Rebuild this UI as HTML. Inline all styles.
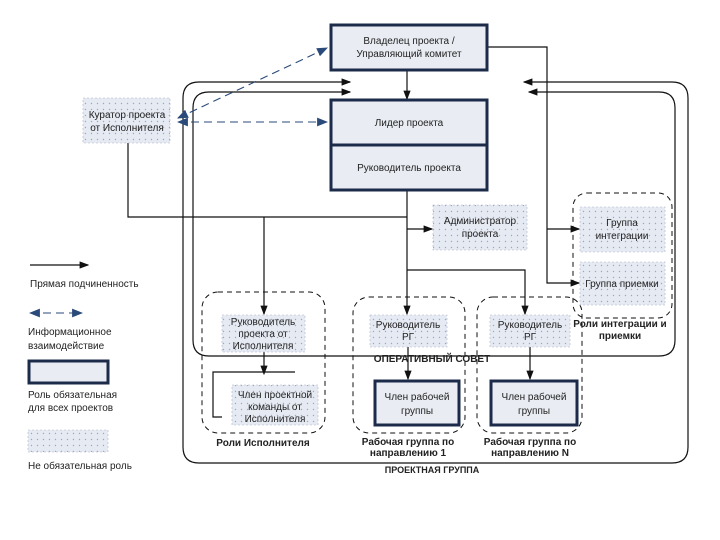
<!DOCTYPE html>
<html><head><meta charset="utf-8"><style>body{margin:0;background:#fff}svg{display:block}text{font-family:"Liberation Sans",sans-serif;font-size:10px;fill:#222}</style></head><body>
<svg width="720" height="540" viewBox="0 0 720 540">
<defs>
<pattern id="dt" width="6" height="6" patternUnits="userSpaceOnUse"><rect width="6" height="6" fill="#e6eaf3"/><circle cx="1.5" cy="1.5" r="0.7" fill="#9aa8c4"/></pattern>
<marker id="a" markerWidth="8" markerHeight="8" refX="7" refY="4" orient="auto"><path d="M0,1 L8,4 L0,7z" fill="#111"/></marker>
<marker id="b" markerWidth="10" markerHeight="10" refX="9" refY="5" orient="auto-start-reverse"><path d="M0,1 L10,5 L0,9z" fill="#2a4a7a"/></marker>
</defs>
<g fill="none" stroke="#111" stroke-width="1.2">
<path d="M350,82 H199 Q183,82 183,98 V447 Q183,463 199,463 H672 Q688,463 688,447 V98 Q688,82 672,82 H525"/>
<path d="M350,92 H209 Q193,92 193,108 V340 Q193,356 209,356 H659 Q675,356 675,340 V108 Q675,92 659,92 H530"/>
</g>
<g stroke="#111" stroke-width="1.2" fill="none">
<line x1="345" y1="82" x2="350" y2="82" marker-end="url(#a)"/>
<line x1="345" y1="92" x2="350" y2="92" marker-end="url(#a)"/>
<line x1="530" y1="82" x2="524" y2="82" marker-end="url(#a)"/>
<line x1="535" y1="92" x2="529" y2="92" marker-end="url(#a)"/>
<line x1="407" y1="70" x2="407" y2="99" marker-end="url(#a)"/>
<polyline points="128,143 128,217 407,217"/>
<line x1="264" y1="217" x2="264" y2="314" marker-end="url(#a)"/>
<line x1="407" y1="190" x2="407" y2="314" marker-end="url(#a)"/>
<line x1="407" y1="229" x2="432" y2="229" marker-end="url(#a)"/>
<polyline points="407,270 525,270 525,314" marker-end="url(#a)"/>
<polyline points="487,47 547,47 547,283 579,283" marker-end="url(#a)"/>
<line x1="547" y1="229" x2="579" y2="229" marker-end="url(#a)"/>
<line x1="264" y1="352" x2="264" y2="374" marker-end="url(#a)"/>
<polyline points="295,372 213,372 213,417 222,417"/>
<line x1="408" y1="347" x2="408" y2="379" marker-end="url(#a)"/>
<line x1="530" y1="347" x2="530" y2="379" marker-end="url(#a)"/>
<line x1="30" y1="265" x2="88" y2="265" marker-end="url(#a)"/>
</g>
<g stroke="#2a4a7a" stroke-width="1.1" fill="none" stroke-dasharray="8,5">
<line x1="178" y1="118" x2="327" y2="48" marker-start="url(#b)" marker-end="url(#b)"/>
<line x1="178" y1="122" x2="327" y2="122" marker-start="url(#b)" marker-end="url(#b)"/>
<line x1="30" y1="313" x2="82" y2="313" marker-start="url(#b)" marker-end="url(#b)"/>
</g>
<g fill="none" stroke="#111" stroke-dasharray="5,4" stroke-width="1">
<rect x="202" y="292" width="123" height="141" rx="16"/>
<rect x="353" y="297" width="112" height="136" rx="16"/>
<rect x="477" y="297" width="105" height="136" rx="16"/>
<rect x="573" y="193" width="99" height="125" rx="14"/>
</g>
<g stroke="#1d2b4a" stroke-width="3" fill="#e9edf3">
<rect x="331" y="25" width="156" height="45"/>
<rect x="331" y="100" width="156" height="45"/>
<rect x="331" y="145" width="156" height="45"/>
<rect x="375" y="381" width="84" height="44"/>
<rect x="491" y="381" width="86" height="44"/>
<rect x="29" y="361" width="79" height="22"/>
</g>
<g fill="url(#dt)" stroke="#aab4c8" stroke-width="0.6" stroke-dasharray="2,2">
<rect x="83" y="98" width="87" height="45"/>
<rect x="433" y="205" width="94" height="45"/>
<rect x="580" y="207" width="85" height="45"/>
<rect x="580" y="262" width="85" height="43"/>
<rect x="222" y="315" width="83" height="37"/>
<rect x="232" y="385" width="86" height="40"/>
<rect x="370" y="315" width="77" height="32"/>
<rect x="490" y="315" width="80" height="32"/>
<rect x="28" y="430" width="80" height="22"/>
</g>
<g text-anchor="middle">
<text x="409" y="44">Владелец проекта /</text><text x="409" y="57">Управляющий комитет</text>
<text x="409" y="126">Лидер проекта</text>
<text x="409" y="171">Руководитель проекта</text>
<text x="127" y="118">Куратор проекта</text><text x="127" y="131">от Исполнителя</text>
<text x="480" y="224">Администратор</text><text x="480" y="237">проекта</text>
<text x="622" y="226">Группа</text><text x="622" y="239">интеграции</text>
<text x="622" y="287">Группа приемки</text>
<text x="263" y="325">Руководитель</text><text x="263" y="337">проекта от</text><text x="263" y="349">Исполнителя</text>
<text x="275" y="398">Член проектной</text><text x="275" y="410">команды от</text><text x="275" y="422">Исполнителя</text>
<text x="408" y="328">Руководитель</text><text x="408" y="340">РГ</text>
<text x="530" y="328">Руководитель</text><text x="530" y="340">РГ</text>
<text x="417" y="400">Член рабочей</text><text x="417" y="414">группы</text>
<text x="534" y="400">Член рабочей</text><text x="534" y="414">группы</text>
<g font-weight="bold" style="font-size:8.5px">
<text x="620" y="327">Роли интеграции  и</text><text x="620" y="339">приемки</text>
<text x="263" y="446">Роли Исполнителя</text>
<text x="408" y="445">Рабочая группа по</text><text x="408" y="456">направлению 1</text>
<text x="530" y="445">Рабочая группа по</text><text x="530" y="456">направлению N</text>
<text x="432" y="362">ОПЕРАТИВНЫЙ СОВЕТ</text>
</g>
<text x="432" y="473" font-weight="bold" style="font-size:9px">ПРОЕКТНАЯ ГРУППА</text>
</g>
<text x="30" y="287">Прямая подчиненность</text>
<text x="28" y="335">Информационное</text><text x="28" y="349">взаимодействие</text>
<text x="28" y="398">Роль обязательная</text><text x="28" y="411">для всех проектов</text>
<text x="28" y="469">Не обязательная роль</text>
</svg>
</body></html>
